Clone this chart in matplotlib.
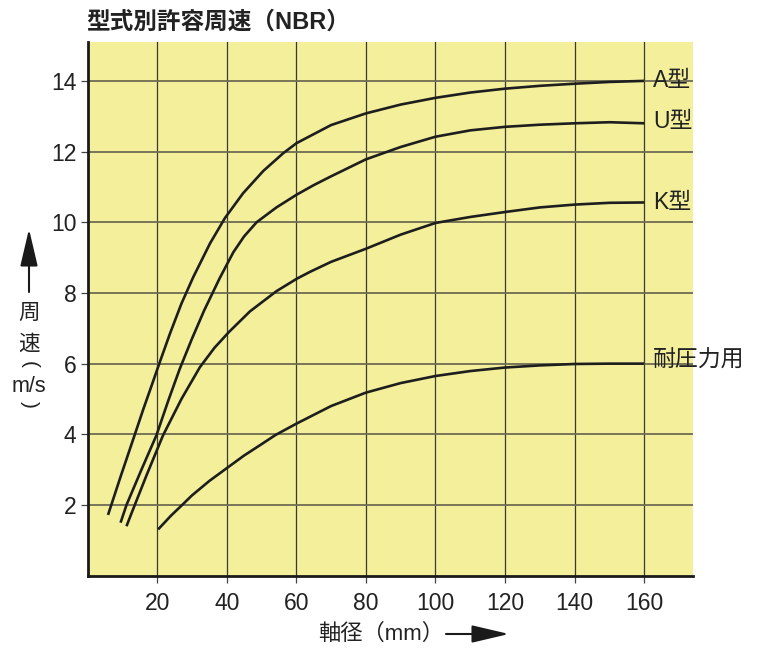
import matplotlib
matplotlib.use("Agg")
import matplotlib.pyplot as plt
from matplotlib.patches import FancyArrowPatch

plt.rcParams['font.family'] = ['Liberation Sans', 'Noto Sans CJK JP']

# 型式別許容周速 (NBR)
a_x = [5.9, 9.5, 13.1, 16, 18.5, 20.8, 23.7, 27, 30.4, 35.2, 39.5, 44.7, 50.5, 56.2, 60.1, 70, 80, 90, 100, 110, 120, 130, 140, 150, 160]
a_y = [1.72, 2.8, 3.85, 4.7, 5.4, 6.05, 6.85, 7.7, 8.45, 9.4, 10.12, 10.82, 11.45, 11.95, 12.24, 12.75, 13.08, 13.33, 13.52, 13.67, 13.78, 13.86, 13.92, 13.97, 14.0]

u_x = [9.5, 11.2, 15.5, 19.8, 23.2, 26.5, 30, 33.5, 38, 41.9, 45, 48.6, 54.3, 60.1, 65, 70, 80, 90, 100, 110, 120, 130, 140, 150, 160]
u_y = [1.5, 2.0, 3.0, 3.97, 4.95, 5.85, 6.7, 7.5, 8.42, 9.15, 9.6, 10.0, 10.42, 10.78, 11.05, 11.3, 11.78, 12.13, 12.42, 12.6, 12.7, 12.76, 12.8, 12.83, 12.8]

k_x = [11.2, 13.1, 17, 21.7, 27, 32.3, 36.5, 40.7, 46.7, 54.3, 60.1, 64, 70, 80, 90, 100, 110, 120, 130, 140, 150, 160]
k_y = [1.4, 1.88, 2.85, 3.97, 5.0, 5.9, 6.45, 6.9, 7.48, 8.05, 8.4, 8.6, 8.88, 9.25, 9.65, 9.98, 10.15, 10.29, 10.42, 10.5, 10.55, 10.56]

p_x = [20.3, 24, 27.5, 30, 35, 40.4, 45, 50, 54, 60, 70, 80, 90, 100, 110, 120, 130, 140, 150, 160]
p_y = [1.31, 1.7, 2.03, 2.27, 2.68, 3.07, 3.4, 3.72, 3.98, 4.3, 4.8, 5.18, 5.45, 5.65, 5.79, 5.89, 5.95, 5.99, 6.0, 6.0]

series = [(a_x, a_y, 'A型'), (u_x, u_y, 'U型'), (k_x, k_y, 'K型'), (p_x, p_y, '耐圧力用')]
label_y = [14.0, 12.85, 10.57, 6.1]

x_ticks = [20, 40, 60, 80, 100, 120, 140, 160]
y_ticks = [2, 4, 6, 8, 10, 12, 14]

fig = plt.figure(figsize=(7.63, 6.48), dpi=100)
ax = fig.add_axes([87.5 / 763, 1 - 575.7 / 648, (693 - 87.5) / 763, (575.7 - 42) / 648])
ax.set_facecolor('#f3ef9b')
ax.set_xlim(0, 174)
ax.set_ylim(0, 15.1)

for x in x_ticks:
    ax.axvline(x, color='#3a3a30', lw=0.9, zorder=1)
for y in y_ticks:
    ax.axhline(y, color='#6e6c52', lw=1.3, zorder=1)

for (xs, ys, name), ly in zip(series, label_y):
    ax.plot(xs, ys, color='#1e1e1e', lw=1.9, zorder=3, solid_capstyle='butt', solid_joinstyle='round')
    ax.text(162.6, ly, name, fontsize=16.5, color='#222222', va='center', ha='left', clip_on=False)

ax.set_xticks(x_ticks)
ax.set_yticks(y_ticks)
ax.tick_params(axis='both', direction='out', length=5, width=0.9, color='#444444',
               labelsize=16.5, labelcolor='#222222')
ax.tick_params(axis='x', pad=7)
ax.tick_params(axis='y', pad=3)

for s in ['top', 'right']:
    ax.spines[s].set_visible(False)
for s in ['left', 'bottom']:
    ax.spines[s].set_linewidth(2.0)
    ax.spines[s].set_color('#1a1a1a')

fig.text(86 / 763, 1 - 22 / 648, '型式別許容周速（NBR）', fontsize=17, fontweight='bold',
         color='#222222', ha='left', va='center')

# vertical y label with arrow
arrow_style = '-|>,head_length=1.15,head_width=0.27'
fig.text(29 / 763, 1 - 313 / 648, '周', fontsize=15.5, color='#222222', ha='center', va='center')
fig.text(29 / 763, 1 - 344 / 648, '速', fontsize=15.5, color='#222222', ha='center', va='center')
fig.text(29 / 763, 1 - 365 / 648, '(', fontsize=15, color='#222222', ha='center', va='center',
         rotation=-90)
fig.text(29 / 763, 1 - 387 / 648, 'm/s', fontsize=15.5, color='#222222', ha='center', va='center')
fig.text(29 / 763, 1 - 404 / 648, ')', fontsize=15, color='#222222', ha='center', va='center',
         rotation=-90)
fig.add_artist(FancyArrowPatch((29 / 763, 1 - 292 / 648), (29 / 763, 1 - 229 / 648),
                               transform=fig.transFigure, arrowstyle=arrow_style,
                               mutation_scale=20, color='#1a1a1a', lw=1.5, shrinkA=0, shrinkB=0))

# x label with arrow
fig.text(318 / 763, 1 - 634 / 648, '軸径（mm）', fontsize=16, color='#222222', ha='left', va='center')
fig.add_artist(FancyArrowPatch((446 / 763, 1 - 634 / 648), (509 / 763, 1 - 634 / 648),
                               transform=fig.transFigure, arrowstyle=arrow_style,
                               mutation_scale=20, color='#1a1a1a', lw=1.5, shrinkA=0, shrinkB=0))

fig.savefig('out.png', dpi=100)
